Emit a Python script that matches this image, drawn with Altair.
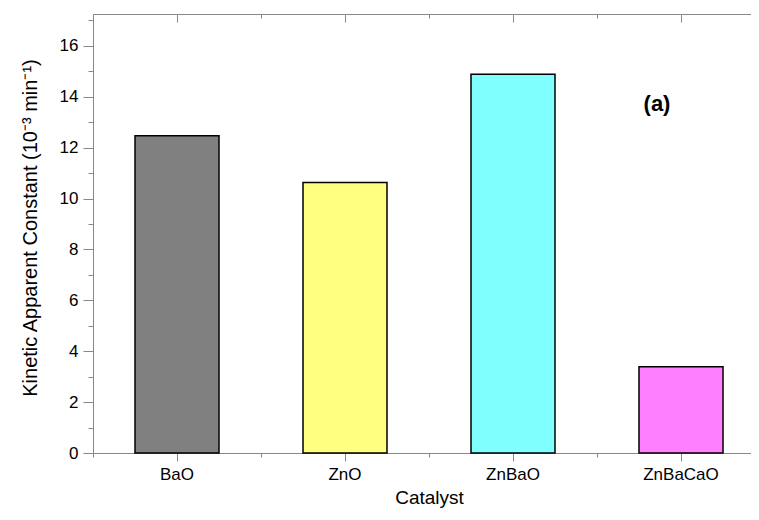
import altair as alt
import pandas as pd

catalysts = ["BaO", "ZnO", "ZnBaO", "ZnBaCaO"]
rate_constants = [12.47, 10.63, 14.88, 3.39]
bar_colors = ["#808080", "#FFFF80", "#80FFFF", "#FF80FF"]
major_ticks = [0, 2, 4, 6, 8, 10, 12, 14, 16]
minor_ticks = [1, 3, 5, 7, 9, 11, 13, 15, 17]
y_title = "Kinetic Apparent Constant (10\u207B\u00B3 min\u207B\u00B9)"
panel_label = "(a)"

df = pd.DataFrame({"Catalyst": catalysts, "k": rate_constants})

FONT = "Liberation Sans"
# the page (759 px wide) has 8 px margins on both sides, so the svg can be 743 px wide
W_VIEW, W_RANGE, H = 658, 672, 439

xscale = alt.Scale(domain=catalysts, paddingInner=0, paddingOuter=0, range=[0, W_RANGE])
yscale = alt.Scale(domain=[0, 17.25], nice=False, zero=True)
color = alt.Color("Catalyst:N", scale=alt.Scale(domain=catalysts, range=bar_colors), legend=None)

base = alt.Chart(df)

def hidden_axis(orient, **kw):
    kw.setdefault("domain", False)
    return alt.Axis(orient=orient, labels=False, grid=False, title=None, **kw)

bars = base.mark_bar(width=alt.RelativeBandSize(0.5), stroke="black", strokeWidth=1.5).encode(
    x=alt.X("Catalyst:N", scale=xscale, sort=catalysts,
            axis=alt.Axis(orient="bottom", title="Catalyst", tickSize=8, labelAngle=0,
                          labelFontSize=17, titleFontSize=19, labelPadding=5, titlePadding=6,
                          titleFontWeight="normal", grid=False, titleX=336)),
    y=alt.Y("k:Q", scale=yscale,
            axis=alt.Axis(orient="left", values=major_ticks, tickSize=10, title=y_title,
                          labelFontSize=17, titleFontSize=20, labelPadding=5,
                          titleFontWeight="normal", grid=False,
                          titleX=-63, titleY=H / 2 - 6, titleAngle=270, titleAlign="center",
                          titleBaseline="middle")),
    color=color,
)

minor = base.mark_bar(opacity=0).encode(
    x=alt.X("Catalyst:N", scale=xscale, sort=catalysts,
            axis=hidden_axis("bottom", tickBand="extent", tickSize=4)),
    y=alt.Y("k:Q", scale=yscale, axis=hidden_axis("left", values=minor_ticks, tickSize=5)),
)

frame_major = base.mark_bar(opacity=0).encode(
    x=alt.X("Catalyst:N", scale=xscale, sort=catalysts,
            axis=hidden_axis("top", tickSize=8, offset=-8)),
)

frame_minor = base.mark_bar(opacity=0).encode(
    x=alt.X("Catalyst:N", scale=xscale, sort=catalysts,
            axis=hidden_axis("top", tickBand="extent", tickSize=4, offset=-4)),
)

frame_top = base.mark_bar(opacity=0).encode(
    x=alt.X("Catalyst:N", scale=xscale, sort=catalysts,
            axis=hidden_axis("top", ticks=False, domain=True)),
)

label = alt.Chart(pd.DataFrame({"t": [panel_label]})).mark_text(
    font=FONT, fontSize=22, fontWeight="bold", color="black", align="center", baseline="middle"
).encode(text="t:N", x=alt.value(564), y=alt.value(90))

chart = alt.layer(bars, minor, frame_major, frame_minor, frame_top, label).resolve_axis(
    x="independent", y="independent"
).properties(
    width=W_VIEW, height=H,
    autosize=alt.AutoSizeParams(type="none"),
    padding={"left": 85, "top": 6, "right": 0, "bottom": 57},
).configure_view(
    strokeWidth=0
).configure_axis(
    domainColor="black", domainWidth=2, tickColor="black", tickWidth=1.5,
    labelColor="black", titleColor="black", labelFont=FONT, titleFont=FONT,
).configure(background="white")

chart.save("out.html", embed_options={"renderer": "svg", "actions": False})
